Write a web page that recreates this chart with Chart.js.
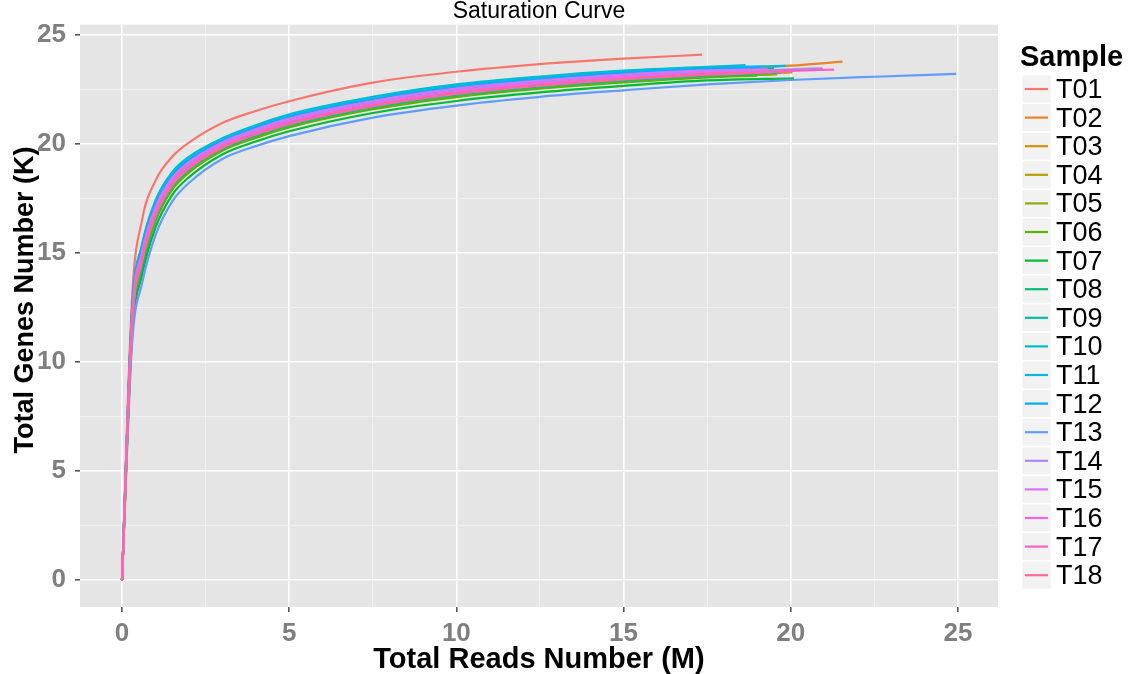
<!DOCTYPE html>
<html>
<head>
<meta charset="utf-8">
<script src="https://cdn.jsdelivr.net/npm/chart.js@4.4.0/dist/chart.umd.min.js"></script>
<style>
body { margin: 0; background: #fff; }
canvas { display: block; }
</style>
</head>
<body>
<canvas id="myChart" width="1128" height="674"></canvas>
<script>
var samples = ['T01', 'T02', 'T03', 'T04', 'T05', 'T06', 'T07', 'T08', 'T09',
               'T10', 'T11', 'T12', 'T13', 'T14', 'T15', 'T16', 'T17', 'T18'];
var sampleColors = ['#F8766D', '#E88526', '#D39200', '#B79F00', '#93AA00', '#5EB300',
                    '#00BA38', '#00BF74', '#00C19F', '#00BFC4', '#00B9E3', '#00ADFA',
                    '#619CFF', '#AE87FF', '#DB72FB', '#F564E3', '#FF61C3', '#FF699C'];

// reads (M) at which genes were counted, shared by every sample
var readsGrid = [0, 0.3, 0.6, 1, 1.5, 2, 3, 4, 5, 7.5, 10, 12.5, 15, 17.5, 20, 22.5];

// last point of each curve (all reads used)
var totalReads = [17.35, 21.55, 20.05, 19.6, 19.35, 19.0, 20.1, 19.5, 19.7,
                  18.65, 19.85, 19.1, 24.95, 20.95, 19.3, 19.3, 21.3, 20.0];
var totalGenes = [24.08, 23.76, 23.27, 23.18, 23.18, 23.12, 23.0, 23.45, 23.25,
                  23.6, 23.57, 23.5, 23.2, 23.46, 23.42, 23.3, 23.4, 23.3];

// genes (K) at readsGrid
var genesT01 = [0, 12.9, 16.5, 18.3, 19.4, 20.05, 20.95, 21.5, 21.95, 22.8, 23.3, 23.65, 23.9];
var genesT02 = [0, 12.16, 15.13, 17.16, 18.5, 19.22, 20.11, 20.71, 21.2, 22.01, 22.57, 22.94, 23.22, 23.4, 23.58];
var genesT03 = [0, 11.58, 14.48, 16.62, 18.0, 18.78, 19.77, 20.36, 20.84, 21.67, 22.23, 22.61, 22.89, 23.11];
var genesT04 = [0, 11.52, 14.41, 16.52, 17.96, 18.74, 19.73, 20.32, 20.8, 21.63, 22.19, 22.57, 22.86, 23.08];
var genesT05 = [0, 11.5, 14.43, 16.5, 17.98, 18.72, 19.75, 20.3, 20.82, 21.62, 22.2, 22.56, 22.87, 23.07];
var genesT06 = [0, 11.44, 14.32, 16.44, 17.89, 18.68, 19.68, 20.27, 20.75, 21.58, 22.14, 22.52, 22.81, 23.04];
var genesT07 = [0, 11.15, 14.0, 16.15, 17.65, 18.46, 19.51, 20.1, 20.57, 21.41, 21.96, 22.35, 22.65, 22.9];
var genesT08 = [0, 12.0, 14.95, 17.0, 18.36, 19.1, 20.01, 20.61, 21.1, 21.91, 22.48, 22.85, 23.13, 23.32];
var genesT09 = [0, 11.6, 14.5, 16.6, 18.03, 18.8, 19.78, 20.37, 20.85, 21.68, 22.24, 22.62, 22.9, 23.12];
var genesT10 = [0, 12.4, 15.4, 17.4, 18.7, 19.4, 20.25, 20.85, 21.35, 22.15, 22.72, 23.08, 23.35, 23.52];
var genesT11 = [0, 12.32, 15.31, 17.32, 18.63, 19.34, 20.2, 20.8, 21.3, 22.1, 22.67, 23.03, 23.31, 23.48];
var genesT12 = [0, 12.2, 15.18, 17.2, 18.53, 19.25, 20.14, 20.74, 21.23, 22.04, 22.6, 22.97, 23.25, 23.43];
var genesT13 = [0, 10.8, 13.6, 15.8, 17.35, 18.2, 19.3, 19.89, 20.35, 21.2, 21.75, 22.15, 22.45, 22.72, 22.92, 23.07];
var genesT14 = [0, 11.92, 14.86, 16.92, 18.3, 19.04, 19.97, 20.56, 21.05, 21.87, 22.43, 22.8, 23.08, 23.28, 23.41];
var genesT15 = [0, 12.08, 15.04, 17.08, 18.43, 19.16, 20.06, 20.66, 21.15, 21.96, 22.53, 22.89, 23.17, 23.36];
var genesT16 = [0, 11.84, 14.77, 16.84, 18.23, 18.98, 19.92, 20.51, 21.0, 21.82, 22.38, 22.75, 23.04, 23.24];
var genesT17 = [0, 11.76, 14.68, 16.76, 18.16, 18.92, 19.87, 20.47, 20.95, 21.77, 22.33, 22.71, 22.99, 23.2, 23.34];
var genesT18 = [0, 11.68, 14.59, 16.68, 18.09, 18.86, 19.82, 20.42, 20.9, 21.72, 22.28, 22.66, 22.95, 23.16];
var genesBySample = [genesT01, genesT02, genesT03, genesT04, genesT05, genesT06, genesT07, genesT08, genesT09,
                     genesT10, genesT11, genesT12, genesT13, genesT14, genesT15, genesT16, genesT17, genesT18];

var xTicks = [0, 5, 10, 15, 20, 25];
var xMinor = [2.5, 7.5, 12.5, 17.5, 22.5];
var yTicks = [0, 5, 10, 15, 20, 25];
var yMinor = [2.5, 7.5, 12.5, 17.5, 22.5];

var fontName = '"Liberation Sans", Arial, sans-serif';
Chart.defaults.font.family = fontName;

//one line per sample, the grid points then the last point
function makeDataSets() {
    var dataSets = [];
    for (var i = 0; i < samples.length; i++) {
        var data = [];
        var genes = genesBySample[i];
        for (var j = 0; j < genes.length; j++) {
            data.push({x: readsGrid[j], y: genes[j]});
        }
        data.push({x: totalReads[i], y: totalGenes[i]});
        dataSets.push({
            label: samples[i],
            data: data,
            borderColor: sampleColors[i],
            borderWidth: 2.2,
            pointRadius: 0,
            fill: false,
            cubicInterpolationMode: 'monotone',
            order: samples.length - i //T18 drawn last like ggplot
        });
    }
    return dataSets;
}

function isMajor(ctx) {
    return ctx.tick && ctx.tick.value % 5 === 0;
}

function tickList(major, minor) {
    return major.concat(minor).sort(function(a, b) { return a - b; }).map(function(v) {
        return {value: v};
    });
}

var gridOpts = {
    color: function(ctx) { return isMajor(ctx) ? '#ffffff' : '#f2f2f2'; },
    lineWidth: function(ctx) { return isMajor(ctx) ? 1.6 : 0.8; },
    tickColor: function(ctx) { return isMajor(ctx) ? '#555555' : 'rgba(0,0,0,0)'; },
    tickLength: 5,
    drawTicks: true
};

var tickFont = {family: fontName, size: 26, weight: 'bold'};

//grey panel, titles and ggplot style legend
var ggExtras = {
    id: 'ggExtras',
    beforeDraw: function(chart) {
        var ctx = chart.ctx, a = chart.chartArea;
        ctx.save();
        ctx.fillStyle = '#ffffff';
        ctx.fillRect(0, 0, chart.width, chart.height);
        ctx.fillStyle = '#e5e5e5';
        ctx.fillRect(a.left, a.top, a.right - a.left, a.bottom - a.top);
        ctx.restore();
    },
    afterDraw: function(chart) {
        var ctx = chart.ctx, a = chart.chartArea;
        ctx.save();
        ctx.fillStyle = '#000000';
        ctx.textBaseline = 'middle';
        ctx.textAlign = 'center';
        ctx.font = '23px ' + fontName;
        ctx.fillText('Saturation Curve', (a.left + a.right) / 2, 12);

        //y axis title, sits a bit above the panel centre in the original
        ctx.save();
        ctx.translate(33, 300);
        ctx.rotate(-Math.PI / 2);
        ctx.textBaseline = 'alphabetic';
        ctx.font = 'bold 27px ' + fontName;
        ctx.fillText('Total Genes Number (K)', 0, 0);
        ctx.restore();

        ctx.textAlign = 'left';
        ctx.font = 'bold 29px ' + fontName;
        ctx.fillText('Sample', 1020, 58);
        var sets = chart.data.datasets;
        for (var i = 0; i < sets.length; i++) {
            var top = 75.5 + i * 28.6;
            ctx.fillStyle = '#f2f2f2';
            ctx.fillRect(1022.5, top, 28, 27);
            ctx.strokeStyle = sets[i].borderColor;
            ctx.lineWidth = 2.2;
            ctx.beginPath();
            ctx.moveTo(1025, top + 13.5);
            ctx.lineTo(1048, top + 13.5);
            ctx.stroke();
            ctx.fillStyle = '#000000';
            ctx.font = '27px ' + fontName;
            ctx.fillText(sets[i].label, 1056, top + 15);
        }
        ctx.restore();
    }
};

var ctx = document.getElementById('myChart').getContext('2d');
var myChart = new Chart(ctx, {
    type: 'line',
    data: {
        datasets: makeDataSets()
    },
    options: {
        responsive: false,
        maintainAspectRatio: false,
        animation: false,
        layout: {padding: {left: 0, top: 22, right: 130, bottom: 0}},
        plugins: {
            legend: {display: false},
            tooltip: {enabled: false}
        },
        scales: {
            x: {
                type: 'linear',
                min: -1.256,
                max: 26.2,
                afterBuildTicks: function(scale) { scale.ticks = tickList(xTicks, xMinor); },
                afterFit: function(scale) { scale.height = 67; },
                grid: gridOpts,
                border: {display: false},
                ticks: {
                    autoSkip: false,
                    maxRotation: 0,
                    padding: 6,
                    color: '#7f7f7f',
                    font: tickFont,
                    callback: function(v) { return v % 5 === 0 ? v : ''; }
                },
                title: {
                    display: true,
                    text: 'Total Reads Number (M)',
                    color: '#000000',
                    font: {family: fontName, size: 29, weight: 'bold', lineHeight: 1},
                    padding: {top: 0, bottom: 0}
                }
            },
            y: {
                type: 'linear',
                min: -1.23,
                max: 25.46,
                afterBuildTicks: function(scale) { scale.ticks = tickList(yTicks, yMinor); },
                afterFit: function(scale) { scale.width = 80; },
                grid: gridOpts,
                border: {display: false},
                ticks: {
                    autoSkip: false,
                    padding: 9,
                    color: '#7f7f7f',
                    font: tickFont,
                    callback: function(v) { return v % 5 === 0 ? v : ''; }
                }
            }
        }
    },
    plugins: [ggExtras]
});
</script>
</body>
</html>
